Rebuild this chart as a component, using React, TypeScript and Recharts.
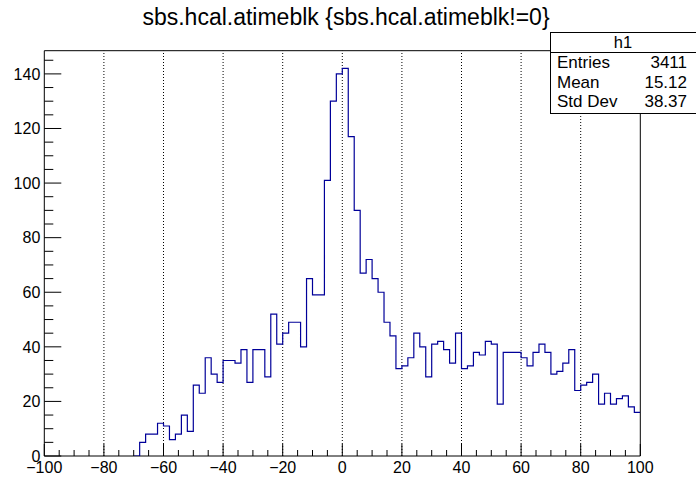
import { ComposedChart, Line, XAxis, YAxis, ReferenceLine, ReferenceArea } from "recharts";

// ROOT-style TH1 outline: 2-unit bins, first listed bin starts at -70.
const FIRST_EDGE = -70;
const BIN_WIDTH = 2;
const COUNTS = [
  0, 5, 8, 8, 12, 11, 6, 8, 15, 9, // -70 .. -52
  26, 23, 36, 30, 27, 35, 35, 34, 39, 27, // -50 .. -32
  39, 39, 29, 52, 41, 45, 49, 49, 40, 65, // -30 .. -12
  59, 59, 101, 130, 140, 142, 117, 90, 67, 72, // -10 .. 8
  65, 60, 49, 44, 32, 33, 36, 45, 40, 29, // 10 .. 28
  41, 42, 39, 34, 45, 32, 33, 38, 37, 42, // 30 .. 48
  41, 19, 38, 38, 38, 36, 33, 38, 41, 38, // 50 .. 68
  30, 31, 34, 39, 24, 26, 27, 30, 19, 23, // 70 .. 88
  19, 21, 22, 18, 16, // 90 .. 98
];

const X_MAJOR = [-100, -80, -60, -40, -20, 0, 20, 40, 60, 80, 100];
const X_GRID = [-80, -60, -40, -20, 0, 20, 40, 60, 80];
const Y_MAJOR = [0, 20, 40, 60, 80, 100, 120, 140];
const Y_MAX = 148.5;

const STATS: [string, string][] = [
  ["Entries", "3411"],
  ["Mean", "15.12"],
  ["Std Dev", "38.37"],
];
const TITLE = "sbs.hcal.atimeblk {sbs.hcal.atimeblk!=0}";

const FONT = "'Liberation Sans', Arial, Helvetica, sans-serif";
const LINE_COLOR = "#000099";

const xTicks: number[] = [];
for (let v = -100; v <= 100; v += 5) xTicks.push(v);
const yTicks: number[] = [];
for (let v = 0; v <= 145; v += 5) yTicks.push(v);

const data = COUNTS.map((c, i) => ({ x: FIRST_EDGE + i * BIN_WIDTH, y: c }));
data.push({ x: 100, y: COUNTS[COUNTS.length - 1] });

const fmt = (v: number) => (v < 0 ? `\u2212${Math.abs(v)}` : `${v}`);

// ticks point into the frame, like ROOT does
function XTick(props: any) {
  const { x, y, payload } = props;
  const v = payload.value as number;
  const major = X_MAJOR.includes(v);
  return (
    <g>
      <line x1={x} x2={x} y1={y} y2={y - (major ? 12 : 6)} stroke="#000" />
      {major && (
        <text x={x} y={y + 17} textAnchor="middle" fontSize={16} fontFamily={FONT} fill="#000">
          {fmt(v)}
        </text>
      )}
    </g>
  );
}

function YTick(props: any) {
  const { x, y, payload } = props;
  const v = payload.value as number;
  const major = Y_MAJOR.includes(v);
  return (
    <g>
      <line x1={x} x2={x + (major ? 17 : 9)} y1={y} y2={y} stroke="#000" />
      {major && (
        <text x={x - 4} y={y + 5.7} textAnchor="end" fontSize={16} fontFamily={FONT} fill="#000">
          {v}
        </text>
      )}
    </g>
  );
}

export default function App() {
  return (
    <div style={{ position: "absolute", left: 0, top: 0, width: 696, height: 481, background: "#fff", fontFamily: FONT }}>
      <div
        style={{
          position: "absolute",
          left: 0,
          top: 3,
          width: 692,
          textAlign: "center",
          fontSize: 23,
          lineHeight: "28px",
          color: "#000",
        }}
      >
        {TITLE}
      </div>

      <ComposedChart width={696} height={481} data={data} margin={{ top: 50.7, right: 55.7, left: 0, bottom: 0 }}>
        {X_GRID.map((v) => (
          <ReferenceLine key={v} x={v} stroke="#000" strokeDasharray="1 2" strokeWidth={1} />
        ))}
        <XAxis
          dataKey="x"
          type="number"
          domain={[-100, 100]}
          ticks={xTicks}
          interval={0}
          tickSize={0}
          tickMargin={0}
          tickLine={false}
          axisLine={false}
          height={25}
          tick={XTick}
          allowDataOverflow
        />
        <YAxis
          type="number"
          domain={[0, Y_MAX]}
          ticks={yTicks}
          interval={0}
          tickSize={0}
          tickMargin={0}
          tickLine={false}
          axisLine={false}
          width={44.3}
          tick={YTick}
          allowDataOverflow
        />
        <ReferenceArea x1={-100} x2={100} y1={0} y2={Y_MAX} fill="none" stroke="#000" strokeWidth={1} ifOverflow="visible" />
        <Line
          type="stepAfter"
          dataKey="y"
          stroke={LINE_COLOR}
          strokeWidth={1.2}
          dot={false}
          activeDot={false}
          isAnimationActive={false}
        />
      </ComposedChart>

      <div
        style={{
          position: "absolute",
          left: 550,
          top: 32,
          width: 150,
          height: 82,
          background: "#fff",
          border: "1px solid #000",
          boxSizing: "border-box",
          color: "#000",
        }}
      >
        <div style={{ height: 19, borderBottom: "1px solid #000", textAlign: "center", fontSize: 16.5, lineHeight: "19px", paddingRight: 4 }}>
          h1
        </div>
        {STATS.map(([k, v]) => (
          <div key={k} style={{ display: "flex", justifyContent: "space-between", fontSize: 17, lineHeight: "19.5px", paddingLeft: 6, paddingRight: 12 }}>
            <span>{k}</span>
            <span>{v}</span>
          </div>
        ))}
      </div>
    </div>
  );
}
